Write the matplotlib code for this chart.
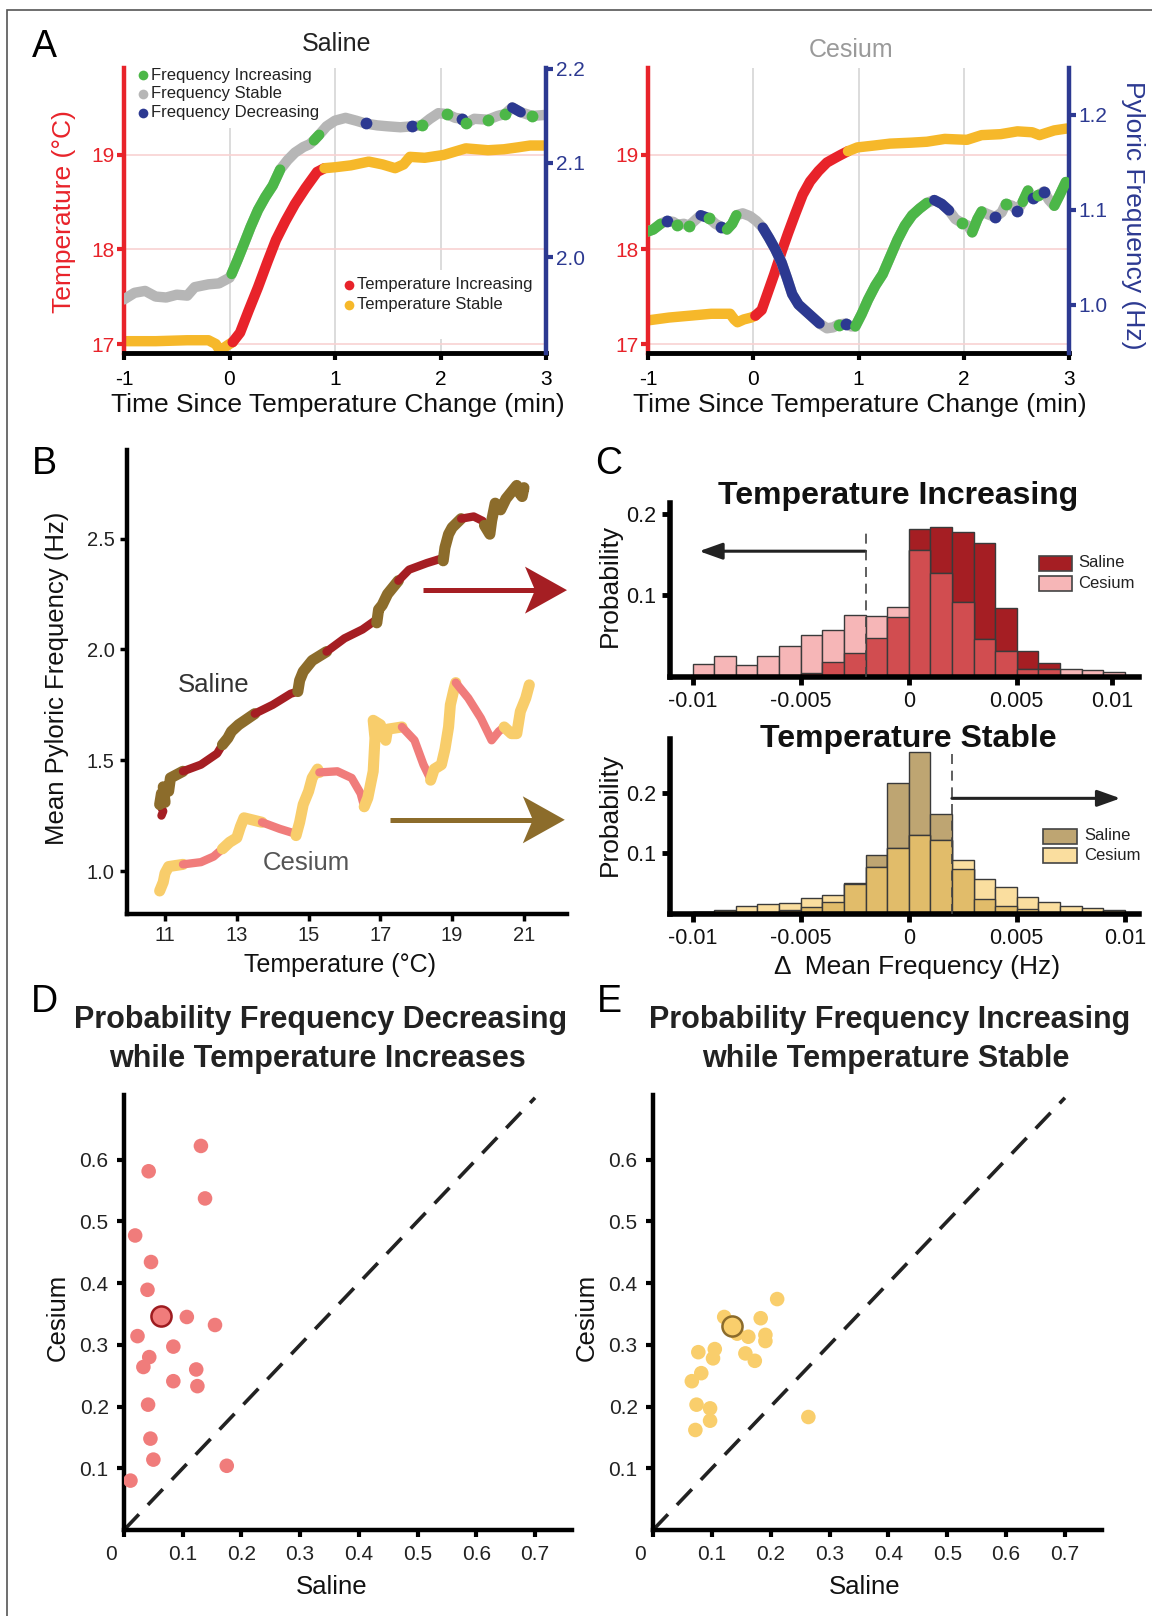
import numpy as np
import matplotlib
matplotlib.use('Agg')
import matplotlib.pyplot as plt
from matplotlib.patches import Rectangle, Polygon
from matplotlib.transforms import ScaledTranslation

plt.rcParams['font.family'] = ['Liberation Sans', 'DejaVu Sans']

# ---------------- data ----------------
# Panel A, saline: temperature trace and pyloric frequency trace
SAL_T_TIME = [-1.0, -0.7, -0.4, -0.2, -0.13, -0.09, -0.04, 0.0,
              0.03, 0.1, 0.18, 0.27, 0.36, 0.44, 0.53, 0.62, 0.72, 0.83,
              0.9, 1.0, 1.15, 1.32, 1.45, 1.57, 1.65, 1.71, 1.85, 2.03, 2.15, 2.24, 2.45, 2.6, 2.73, 2.85, 2.98]
SAL_T_VAL = [17.03, 17.03, 17.04, 17.04, 17.0, 16.93, 16.97, 17.0,
             17.02, 17.12, 17.35, 17.6, 17.87, 18.1, 18.3, 18.48, 18.65, 18.82,
             18.86, 18.87, 18.89, 18.93, 18.9, 18.86, 18.9, 18.98, 18.97, 19.0, 19.04, 19.07, 19.05, 19.06, 19.08, 19.1, 19.1]
SAL_T_STATE = 'ssssssss' 'iiiiiiiiii' 'sssssssssssssssss'

SAL_F_TIME = [-1.0, -0.9, -0.8, -0.7, -0.6, -0.5, -0.4, -0.33, -0.2, -0.1,
              0.0, 0.02, 0.08, 0.13, 0.2, 0.27, 0.34, 0.41, 0.48, 0.55,
              0.62, 0.7, 0.76, 0.8, 0.85, 0.92, 1.0, 1.1, 1.2, 1.29,
              1.4, 1.5, 1.62, 1.73, 1.82, 1.9, 1.98, 2.06, 2.14, 2.2,
              2.24, 2.32, 2.45, 2.54, 2.61, 2.68, 2.76, 2.87, 2.98]
SAL_F_VAL = [1.955, 1.962, 1.964, 1.958, 1.957, 1.960, 1.959, 1.968, 1.971, 1.972,
             1.978, 1.982, 1.998, 2.012, 2.032, 2.05, 2.064, 2.076, 2.093, 2.103,
             2.111, 2.117, 2.12, 2.124, 2.13, 2.139, 2.145, 2.148, 2.145, 2.142,
             2.140, 2.139, 2.138, 2.139, 2.140, 2.147, 2.153, 2.152, 2.148, 2.147,
             2.142, 2.147, 2.146, 2.150, 2.152, 2.159, 2.154, 2.150, 2.151]
SAL_F_STATE = 'sssssssssss' 'iiiiiiii' 'ssss' 'ii' 'ssss' 'd' 'sss' 'd' 'i' 'ss' 'i' 's' 'd' 'i' 's' 'i' 's' 'i' 'dd' 'i' 's'

# Panel A, cesium
CES_T_TIME = [-1.0, -0.8, -0.6, -0.4, -0.22, -0.18, -0.15, -0.09, -0.02,
              0.02, 0.08, 0.14, 0.2, 0.27, 0.33, 0.4, 0.47, 0.54, 0.62, 0.7, 0.78, 0.83,
              0.9, 0.99, 1.15, 1.3, 1.5, 1.65, 1.82, 2.03, 2.17, 2.35, 2.51, 2.65, 2.72, 2.86, 2.98]
CES_T_VAL = [17.25, 17.28, 17.3, 17.32, 17.32, 17.26, 17.23, 17.26, 17.28,
             17.3, 17.36, 17.55, 17.74, 17.98, 18.17, 18.38, 18.58, 18.72, 18.83, 18.92, 18.97, 19.0,
             19.04, 19.08, 19.1, 19.12, 19.13, 19.14, 19.17, 19.16, 19.21, 19.22, 19.25, 19.24, 19.21, 19.26, 19.28]
CES_T_STATE = 'sssssssss' 'iiiiiiiiiiiii' 'sssssssssssssss'

CES_F_TIME = [-1.0, -0.95, -0.88, -0.82, -0.76, -0.72, -0.66, -0.61, -0.56, -0.5,
              -0.45, -0.42, -0.36, -0.31, -0.25, -0.2, -0.16, -0.1, -0.03, 0.03,
              0.09, 0.15, 0.21, 0.27, 0.32, 0.37, 0.43, 0.5, 0.57, 0.63,
              0.7, 0.76, 0.81, 0.88, 0.93, 0.97, 1.03, 1.09, 1.16, 1.23,
              1.3, 1.37, 1.44, 1.51, 1.58, 1.65, 1.72, 1.79, 1.86, 1.92,
              1.98, 2.04, 2.08, 2.13, 2.17, 2.23, 2.3, 2.36, 2.4, 2.46,
              2.51, 2.56, 2.61, 2.66, 2.71, 2.76, 2.81, 2.86, 2.91, 2.97]
CES_F_VAL = [1.077, 1.079, 1.085, 1.088, 1.087, 1.084, 1.085, 1.083, 1.088, 1.094,
             1.092, 1.091, 1.085, 1.082, 1.079, 1.085, 1.094, 1.096, 1.093, 1.088,
             1.081, 1.07, 1.058, 1.044, 1.028, 1.011, 1.0, 0.993, 0.986, 0.980,
             0.975, 0.976, 0.979, 0.98, 0.977, 0.977, 0.99, 1.005, 1.02, 1.032,
             1.05, 1.068, 1.083, 1.094, 1.101, 1.107, 1.11, 1.106, 1.099, 1.09,
             1.086, 1.083, 1.076, 1.09, 1.098, 1.095, 1.092, 1.097, 1.106, 1.104,
             1.099, 1.108, 1.12, 1.112, 1.115, 1.119, 1.11, 1.104, 1.115, 1.129]
CES_F_STATE = ('iiidsisisd' 'disdiiisss' 'dddddddddd' 'ssidsiiiii'
               'iiiiiiddds' 'isiiisdsis' 'diididsiii')

# Panel B: mean frequency vs temperature
SAL_B_TEMP = [10.9, 10.95, 10.85, 10.9, 11.0, 10.95, 11.1, 11.15, 11.5, 12.0, 12.45,
              12.6, 12.75, 12.85, 13.05, 13.5, 14.0, 14.5, 14.7, 14.75, 14.85, 15.0, 15.1,
              15.5, 16.0, 16.5, 16.85, 16.9, 16.95, 17.05, 17.2, 17.5, 17.8, 18.3, 18.7,
              18.75, 18.8, 18.9, 19.0, 19.25, 19.6, 19.85, 19.9, 20.05, 20.1, 20.2, 20.35,
              20.5, 20.7, 20.8, 20.9, 21.0, 20.95]
SAL_B_FREQ = [1.25, 1.27, 1.30, 1.35, 1.31, 1.38, 1.36, 1.42, 1.45, 1.48, 1.53,
              1.57, 1.6, 1.63, 1.66, 1.71, 1.75, 1.8, 1.81, 1.86, 1.9, 1.93, 1.95,
              1.99, 2.05, 2.09, 2.13, 2.12, 2.18, 2.2, 2.25, 2.31, 2.36, 2.39, 2.41,
              2.40, 2.46, 2.52, 2.55, 2.59, 2.6, 2.58, 2.56, 2.52, 2.58, 2.66, 2.63,
              2.68, 2.72, 2.74, 2.70, 2.73, 2.69]
SAL_B_STATE = 'ii' 'ssssss' 'iii' 'ssss' 'iii' 'sssss' 'iiii' 'ssss' 'iiii' 'ssss' 'iii' 'sssssssssss'

CES_B_TEMP = [10.85, 10.95, 11.0, 11.1, 11.5, 12.0, 12.35,
              12.6, 12.8, 13.0, 13.1, 13.2, 13.7, 14.2, 14.6,
              14.65, 14.75, 14.85, 15.0, 15.1, 15.25, 15.3, 15.8, 16.2, 16.45,
              16.55, 16.65, 16.8, 16.85, 16.8, 17.0, 17.15, 17.2, 17.6, 17.95, 18.2, 18.35,
              18.4, 18.5, 18.7, 18.8, 18.9, 18.95, 19.05, 19.1, 19.45, 19.8, 20.1, 20.3,
              20.45, 20.65, 20.8, 20.9, 21.05, 21.15]
CES_B_FREQ = [0.91, 0.95, 0.99, 1.02, 1.03, 1.04, 1.065,
              1.10, 1.13, 1.15, 1.2, 1.24, 1.22, 1.19, 1.17,
              1.16, 1.22, 1.3, 1.36, 1.42, 1.46, 1.445, 1.45, 1.42, 1.35,
              1.29, 1.33, 1.45, 1.6, 1.68, 1.66, 1.59, 1.64, 1.65, 1.59, 1.48, 1.43,
              1.41, 1.46, 1.48, 1.55, 1.65, 1.75, 1.82, 1.85, 1.78, 1.69, 1.59, 1.63,
              1.65, 1.62, 1.62, 1.72, 1.78, 1.84]
CES_B_STATE = 'ssss' 'iii' 'sssss' 'iii' 'ssssss' 'iiii' 'ssssssss' 'iiii' 'sssssss' 'iiiii' 'ssssss'

# Panel C: histograms of change in mean frequency, bins of 0.001 Hz
BIN_LEFT = [-0.010, -0.009, -0.008, -0.007, -0.006, -0.005, -0.004, -0.003, -0.002, -0.001,
            0.000, 0.001, 0.002, 0.003, 0.004, 0.005, 0.006, 0.007, 0.008, 0.009]
BIN_WIDTH = 0.001
INC_SALINE = [0, 0, 0, 0, 0, 0.0045, 0.018, 0.029, 0.048, 0.074,
              0.181, 0.184, 0.178, 0.164, 0.084, 0.032, 0.017, 0, 0, 0]
INC_CESIUM = [0.0165, 0.026, 0.0145, 0.026, 0.038, 0.052, 0.058, 0.076, 0.075, 0.086,
              0.155, 0.127, 0.092, 0.047, 0.032, 0.0095, 0.0095, 0.0095, 0.008, 0.0066]
STB_SALINE = [0.003, 0, 0, 0, 0.0067, 0.012, 0.020, 0.051, 0.097, 0.216,
              0.267, 0.165, 0.074, 0.024, 0.013, 0.009, 0, 0, 0, 0]
STB_CESIUM = [0.003, 0.007, 0.013, 0.016, 0.018, 0.027, 0.032, 0.050, 0.077, 0.109,
              0.131, 0.123, 0.089, 0.058, 0.044, 0.028, 0.020, 0.014, 0.010, 0.0067]

# Panel D / E: per-preparation probabilities (saline vs cesium)
D_SALINE = [0.131, 0.042, 0.138, 0.019, 0.046, 0.040, 0.107, 0.155, 0.023, 0.084,
            0.043, 0.033, 0.123, 0.084, 0.125, 0.041, 0.045, 0.050, 0.175, 0.011]
D_CESIUM = [0.622, 0.581, 0.537, 0.477, 0.434, 0.389, 0.345, 0.332, 0.314, 0.297,
            0.280, 0.264, 0.260, 0.241, 0.233, 0.203, 0.148, 0.114, 0.104, 0.080]
D_HILITE = (0.063, 0.347)

E_SALINE = [0.211, 0.121, 0.183, 0.143, 0.162, 0.191, 0.191, 0.077, 0.105, 0.102,
            0.157, 0.173, 0.082, 0.066, 0.074, 0.097, 0.097, 0.072, 0.264]
E_CESIUM = [0.374, 0.345, 0.343, 0.318, 0.313, 0.316, 0.306, 0.288, 0.293, 0.278,
            0.286, 0.274, 0.254, 0.241, 0.203, 0.197, 0.177, 0.162, 0.183]
E_HILITE = (0.135, 0.330)

# ---------------- colours ----------------
RED = '#E8232A'
YELLOW = '#F6B82A'
GRAY = '#B6B6B6'
GREEN = '#4CB748'
BLUE = '#2C3991'
DKRED = '#A51E23'
BROWN = '#8C6C2B'
SALMON = '#F07C7B'
LTYEL = '#F8CD6B'

W, H = 1152, 1616


def fx(px):
    return px / W


def fy(py):
    return 1 - py / H


def box(x0, y0, x1, y1):
    return [fx(x0), fy(y1), (x1 - x0) / W, (y1 - y0) / H]


def runs(states):
    out = []
    start = 0
    for k in range(1, len(states) + 1):
        if k == len(states) or states[k] != states[start]:
            out.append((start, k, states[start]))
            start = k
    return out


def draw_path(ax, x, y, states, colors, widths, z=2):
    x = np.asarray(x)
    y = np.asarray(y)
    for a, b, s in runs(states):
        end = min(b + 1, len(x))
        ax.plot(x[a:end], y[a:end], color=colors[s], lw=widths[s],
                solid_capstyle='round', solid_joinstyle='round', zorder=z)


fig = plt.figure(figsize=(W / 100, H / 100), dpi=100)

# outer frame
fig.add_artist(Rectangle((fx(7), -0.01), 1.0, fy(10) + 0.01, transform=fig.transFigure,
                         fill=False, ec='#555555', lw=1.2))


def panel_a(bx, tt, tv, ts, ft, fv, fs, flim, fticks):
    ax = fig.add_axes(box(*bx))
    ax.set_xlim(-1, 3)
    ax.set_ylim(16.905, 19.92)
    for v in (0, 1, 2):
        ax.axvline(v, color='#d6d6d6', lw=1.2, zorder=0)
    for v in (17, 18, 19):
        ax.axhline(v, color='#f8d2d2', lw=1.2, zorder=0)
    ax.spines['top'].set_visible(False)
    ax.spines['right'].set_visible(False)
    ax.spines['left'].set_color(RED)
    ax.spines['left'].set_linewidth(3.2)
    ax.spines['bottom'].set_linewidth(3.5)
    ax.set_yticks([17, 18, 19], ['17', '18', '19'])
    ax.set_xticks([-1, 0, 1, 2, 3], ['-1', '0', '1', '2', '3'])
    ax.tick_params(axis='y', colors=RED, labelcolor=RED, length=5, width=3, labelsize=15, pad=2)
    ax.tick_params(axis='x', length=5, width=3, labelsize=15, pad=7)
    draw_path(ax, tt, tv, ts, {'s': YELLOW, 'i': RED}, {'s': 7.5, 'i': 7.5})

    ax2 = ax.twinx()
    ax2.set_ylim(*flim)
    for sp in ('top', 'left', 'bottom'):
        ax2.spines[sp].set_visible(False)
    ax2.spines['right'].set_color(BLUE)
    ax2.spines['right'].set_linewidth(3.2)
    ax2.set_yticks(fticks, ['%.1f' % v for v in fticks])
    ax2.tick_params(axis='y', colors=BLUE, labelcolor=BLUE, length=5, width=3, labelsize=15, pad=2)
    ft = np.asarray(ft)
    fv = np.asarray(fv)
    ax2.plot(ft, fv, color=GRAY, lw=7.5, solid_capstyle='round', zorder=2)
    cmap = {'i': GREEN, 'd': BLUE}
    for a, b, s in runs(fs):
        if s == 's':
            continue
        if b - a >= 2:
            ax2.plot(ft[a:b], fv[a:b], color=cmap[s], lw=7.5, solid_capstyle='round', zorder=3)
        else:
            ax2.plot(ft[a], fv[a], 'o', color=cmap[s], ms=8.5, mec='none', zorder=3)
    return ax, ax2


axl, axl2 = panel_a((124, 68, 546, 353), SAL_T_TIME, SAL_T_VAL, SAL_T_STATE,
                    SAL_F_TIME, SAL_F_VAL, SAL_F_STATE, (1.898, 2.201), [2.0, 2.1, 2.2])
axr, axr2 = panel_a((648, 68, 1069, 353), CES_T_TIME, CES_T_VAL, CES_T_STATE,
                    CES_F_TIME, CES_F_VAL, CES_F_STATE, (0.949, 1.249), [1.0, 1.1, 1.2])


def dot_legend(ax, x, ys, items, bg):
    ax.add_patch(Rectangle(bg[:2], bg[2], bg[3], transform=ax.transAxes,
                           fc='white', ec='none', zorder=1))
    for y, (c, lab) in zip(ys, items):
        ax.plot([x], [y], 'o', color=c, ms=7, mec='none', transform=ax.transAxes, zorder=4)
        ax.text(x + 0.02, y, lab, transform=ax.transAxes, va='center', ha='left',
                fontsize=12, color='#222222', zorder=4)


dot_legend(axl2, 0.045, [0.975, 0.91, 0.843],
           [(GREEN, 'Frequency Increasing'), (GRAY, 'Frequency Stable'), (BLUE, 'Frequency Decreasing')],
           (0.03, 0.79, 0.44, 0.21))
dot_legend(axl2, 0.533, [0.239, 0.17],
           [(RED, 'Temperature Increasing'), (YELLOW, 'Temperature Stable')],
           (0.515, 0.05, 0.47, 0.24))

fig.text(fx(337), fy(44), 'Saline', ha='center', va='center', fontsize=18, color='#222222')
fig.text(fx(851), fy(50), 'Cesium', ha='center', va='center', fontsize=18, color='#9a9a9a')
fig.text(fx(64), fy(212), 'Temperature (°C)', rotation=90, ha='center', va='center',
         fontsize=19, color=RED)
fig.text(fx(1133), fy(215), 'Pyloric Frequency (Hz)', rotation=-90, ha='center', va='center',
         fontsize=19, color=BLUE)
fig.text(fx(338), fy(405), 'Time Since Temperature Change (min)', ha='center', va='center',
         fontsize=19, color='#111111')
fig.text(fx(860), fy(405), 'Time Since Temperature Change (min)', ha='center', va='center',
         fontsize=19, color='#111111')

# ---------------- panel B ----------------
BX0, BY0, BX1, BY1 = 127, 450, 567, 914
axb = fig.add_axes(box(BX0, BY0, BX1, BY1))
axb.set_xlim(9.94, 22.2)
axb.set_ylim(0.806, 2.90)
for sp in ('top', 'right'):
    axb.spines[sp].set_visible(False)
for sp in ('left', 'bottom'):
    axb.spines[sp].set_linewidth(3.2)
axb.set_xticks([11, 13, 15, 17, 19, 21], ['11', '13', '15', '17', '19', '21'])
axb.set_yticks([1.0, 1.5, 2.0, 2.5], ['1.0', '1.5', '2.0', '2.5'])
axb.tick_params(length=5, width=2.5, labelsize=14.5, pad=4, labelcolor='#222222')
draw_path(axb, SAL_B_TEMP, SAL_B_FREQ, SAL_B_STATE, {'i': DKRED, 's': BROWN}, {'i': 6, 's': 8})
draw_path(axb, CES_B_TEMP, CES_B_FREQ, CES_B_STATE, {'i': SALMON, 's': LTYEL}, {'i': 6, 's': 8})


def stealth_arrow(ax, x0, x1, y, color):
    # shaft + concave head, sizes in pixels, positions in axes fraction
    aw, ah = BX1 - BX0, BY1 - BY0
    hl, notch, hh = 42 / aw, 32 / aw, 23.5 / ah
    ax.plot([x0, x1 - notch], [y, y], color=color, lw=3.6, solid_capstyle='butt',
            transform=ax.transAxes, clip_on=False)
    ax.add_patch(Polygon([(x1, y), (x1 - hl, y + hh), (x1 - notch, y), (x1 - hl, y - hh)],
                         closed=True, fc=color, ec='none', transform=ax.transAxes, clip_on=False))


stealth_arrow(axb, 0.673, 1.0, 0.698, DKRED)
stealth_arrow(axb, 0.598, 0.995, 0.203, BROWN)

fig.text(fx(214), fy(685), 'Saline', ha='center', va='center', fontsize=18.5, color='#333333')
fig.text(fx(306), fy(863), 'Cesium', ha='center', va='center', fontsize=18.5, color='#555555')
fig.text(fx(57), fy(678), 'Mean Pyloric Frequency (Hz)', rotation=90, ha='center', va='center',
         fontsize=18.5, color='#111111')
fig.text(fx(340), fy(965), 'Temperature (°C)', ha='center', va='center', fontsize=18, color='#111111')


# ---------------- panel C ----------------
def hist_panel(bx, sal, ces, c_sal, c_ces, c_both, ylim, xt):
    ax = fig.add_axes(box(*bx))
    ax.set_xlim(-0.01105, 0.01066)
    ax.set_ylim(*ylim)
    both = np.minimum(sal, ces)
    kw = dict(width=BIN_WIDTH, align='edge', edgecolor='#3a3a3a', lw=1)
    ax.bar(BIN_LEFT, sal, color=c_sal, **kw)
    ax.bar(BIN_LEFT, ces, color=c_ces, **kw)
    ax.bar(BIN_LEFT, both, color=c_both, **kw)
    for sp in ('top', 'right'):
        ax.spines[sp].set_visible(False)
    for sp in ('left', 'bottom'):
        ax.spines[sp].set_linewidth(4)
    ax.set_xticks(xt, ['-0.01', '-0.005', '0', '0.005', '0.01'])
    ax.set_yticks([0.1, 0.2], ['0.1', '0.2'])
    ax.tick_params(length=6, width=3.5, labelsize=15.5, pad=4, labelcolor='#111111')
    return ax


axc1 = hist_panel((670, 503, 1139, 677), INC_SALINE, INC_CESIUM, DKRED, '#F6B6B7', '#D14D50',
                  (0, 0.213), [-0.01, -0.005, 0, 0.005, 0.0094])
axc2 = hist_panel((670, 739, 1139, 914), STB_SALINE, STB_CESIUM, '#BEA572', '#FADE9F', '#E1BC6A',
                  (0, 0.289), [-0.01, -0.005, 0, 0.005, 0.01])

axc1.plot([-0.002, -0.002], [0, 0.181], color='#444444', lw=1.2, ls=(0, (6, 4)), zorder=5)
axc1.annotate('', xy=(-0.0097, 0.154), xytext=(-0.002, 0.154),
              arrowprops=dict(arrowstyle='-|>,head_length=0.7,head_width=0.25', color='#222222',
                              lw=2.2, mutation_scale=20, shrinkA=0, shrinkB=0))
axc2.plot([0.002, 0.002], [0, 0.27], color='#444444', lw=1.2, ls=(0, (6, 4)), zorder=5)
axc2.annotate('', xy=(0.0098, 0.191), xytext=(0.002, 0.191),
              arrowprops=dict(arrowstyle='-|>,head_length=0.7,head_width=0.25', color='#222222',
                              lw=2.2, mutation_scale=20, shrinkA=0, shrinkB=0))


def patch_legend(x0, x1, tx, ys, items):
    h = 15
    for y, (c, lab) in zip(ys, items):
        fig.add_artist(Rectangle((fx(x0), fy(y + h / 2)), (x1 - x0) / W, h / H,
                                 transform=fig.transFigure, fc=c, ec='#444444', lw=1.2))
        fig.text(fx(tx), fy(y), lab, ha='left', va='center', fontsize=12, color='#222222')


patch_legend(1039, 1072, 1078, [563, 583], [(DKRED, 'Saline'), ('#F6B6B7', 'Cesium')])
patch_legend(1043, 1077, 1084, [836, 856], [('#BEA572', 'Saline'), ('#FADE9F', 'Cesium')])

fig.text(fx(898), fy(496), 'Temperature Increasing', ha='center', va='center', fontsize=23,
         fontweight='bold', color='#111111')
fig.text(fx(908), fy(739), 'Temperature Stable', ha='center', va='center', fontsize=23,
         fontweight='bold', color='#111111')
fig.text(fx(610), fy(585), 'Probability', rotation=90, ha='center', va='center', fontsize=19,
         color='#111111')
fig.text(fx(610), fy(814), 'Probability', rotation=90, ha='center', va='center', fontsize=19,
         color='#111111')
fig.text(fx(917), fy(967), 'Δ  Mean Frequency (Hz)', ha='center', va='center', fontsize=19,
         color='#111111')


# ---------------- panels D and E ----------------
def scatter_panel(bx, xs, ys, hl, face, edge):
    ax = fig.add_axes(box(*bx))
    ax.set_xlim(0, 0.763)
    ax.set_ylim(0, 0.7045)
    for sp in ('top', 'right'):
        ax.spines[sp].set_visible(False)
    for sp in ('left', 'bottom'):
        ax.spines[sp].set_linewidth(3.2)
    ax.plot([0, 0.7], [0, 0.7], color='#222222', lw=2.6, ls=(0, (6, 3.6)), zorder=1)
    ax.scatter(xs, ys, s=110, color=face, edgecolors='none', zorder=3)
    ax.scatter([hl[0]], [hl[1]], s=210, color=face, edgecolors=edge, linewidths=1.8, zorder=4)
    ax.set_xticks([0, 0.1, 0.2, 0.3, 0.4, 0.5, 0.6, 0.7],
                  ['0', '0.1', '0.2', '0.3', '0.4', '0.5', '0.6', '0.7'])
    ax.set_yticks([0.1, 0.2, 0.3, 0.4, 0.5, 0.6], ['0.1', '0.2', '0.3', '0.4', '0.5', '0.6'])
    ax.tick_params(length=5, width=3, labelsize=15, pad=6, labelcolor='#222222')
    zero = ax.xaxis.get_major_ticks()[0].label1
    zero.set_transform(zero.get_transform() + ScaledTranslation(-0.13, 0, fig.dpi_scale_trans))
    return ax


axd = scatter_panel((124, 1095, 572, 1530), D_SALINE, D_CESIUM, D_HILITE, SALMON, '#9E1C20')
axe = scatter_panel((653, 1095, 1102, 1530), E_SALINE, E_CESIUM, E_HILITE, '#F9CE6C', '#8B6B2B')

for cx, lines in ((321, ('Probability Frequency Decreasing', 'while Temperature Increases')),
                  (890, ('Probability Frequency Increasing', 'while Temperature Stable'))):
    fig.text(fx(cx), fy(1020), lines[0], ha='center', va='center', fontsize=22,
             fontweight='bold', color='#222222')
    fig.text(fx(cx - 4), fy(1059), lines[1], ha='center', va='center', fontsize=22,
             fontweight='bold', color='#222222')

for cx in (332, 865):
    fig.text(fx(cx), fy(1587), 'Saline', ha='center', va='center', fontsize=18.5, color='#111111')
for cx in (58, 587):
    fig.text(fx(cx), fy(1317), 'Cesium', rotation=90, ha='center', va='center', fontsize=18.5,
             color='#111111')

# panel letters
for lab, (px, py) in zip('ABCDE', [(44, 47), (44, 464), (609, 464), (44, 1002), (609, 1002)]):
    fig.text(fx(px), fy(py), lab, ha='center', va='center', fontsize=27, color='#000000')

fig.savefig('out.png', dpi=100)
